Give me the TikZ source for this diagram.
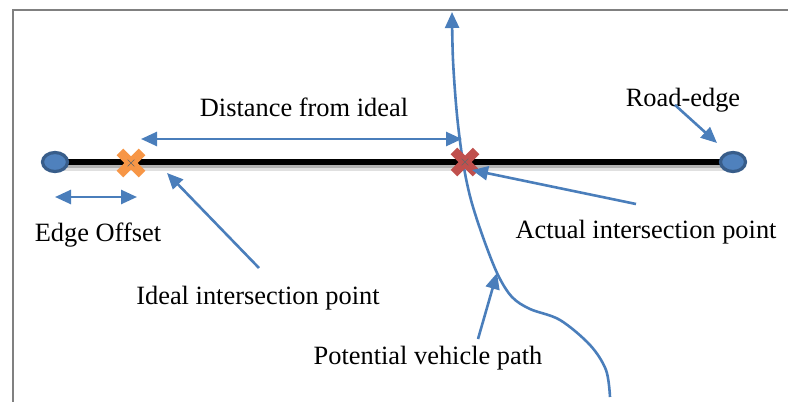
\documentclass[tikz,border=0pt]{standalone}
\usepackage{fontspec}
\setmainfont{Liberation Serif}
\usetikzlibrary{arrows.meta,shapes.geometric,shapes.misc}
\definecolor{LineBlue}{HTML}{4A7EBB}
\definecolor{DotBlue}{HTML}{4F81BD}
\definecolor{DotRim}{HTML}{385D8A}
\definecolor{MarkOrange}{HTML}{F79646}
\definecolor{MarkRed}{HTML}{C0504D}
\definecolor{FrameGray}{HTML}{808080}

\begin{document}
\begin{tikzpicture}[x=0.5pt,y=-0.5pt, every node/.style={font=\fontsize{13.2}{15}\selectfont},
  pointer/.style={-{Triangle[length=8pt,width=7pt]},LineBlue,line width=1.3pt},
  twoway/.style={{Triangle[length=8pt,width=7pt]}-{Triangle[length=8pt,width=7pt]},LineBlue,line width=1.3pt},
  edgedot/.style={ellipse,draw=DotRim,fill=DotBlue,line width=1.6pt,minimum width=12.5pt,minimum height=9.5pt,inner sep=0pt},
  hitmark/.style={cross out,draw=#1,line width=4.6pt,minimum size=6.5pt,inner sep=0pt},
  tinyx/.style={cross out,draw=black!60,line width=0.3pt,minimum size=3pt,inner sep=0pt}]
  \useasboundingbox (0,0) rectangle (788,402);
  \draw[FrameGray,line width=1pt] (13,402) -- (13,10) -- (788,10);

  % road with its two edges
  \coordinate (L) at (55,162);
  \coordinate (R) at (733,162);
  \draw[black!30,line width=1.5pt] (60,166.5) -- (728,166.5);
  \draw[black!12,line width=1.5pt] (60,169) -- (728,169);
  \draw[black,line width=3pt] (L) -- (R);
  \node[edgedot] (roadL) at (L) {};
  \node[edgedot] (roadR) at (R) {};

  % vehicle path
  \draw[pointer] plot[smooth,tension=0.55] coordinates {(610,397) (606,370) (590,345) (560,320) (530,309) (512,297) (498,275) (484,240) (471,200) (463,162) (457,115) (453,60) (452,12)};

  % intersection marks
  \node[hitmark=MarkOrange] (ideal) at (131,163) {};
  \node[tinyx] at (ideal) {};
  \node[hitmark=MarkRed] (actual) at (465,162) {};
  \node[tinyx] at (actual) {};

  % labels
  \node[anchor=base] (lblDist) at (304,116) {Distance from ideal};
  \node[anchor=base] (lblEdge) at (683,106) {Road-edge};
  \node[anchor=base] (lblOffset) at (98,241) {Edge Offset};
  \node[anchor=base] (lblIdeal) at (258,304) {Ideal intersection point};
  \node[anchor=base] (lblActual) at (646,238) {Actual intersection point};
  \node[anchor=base] (lblPath) at (428,364) {Potential vehicle path};

  % arrow ends
  \coordinate (distL) at (141,139);
  \coordinate (distR) at (462,139);
  \coordinate (offL) at (55,197);
  \coordinate (offR) at (137,197);
  \coordinate (edgeTail) at (675,105);
  \coordinate (edgeTip) at (717,143);
  \coordinate (idealTail) at (259,268);
  \coordinate (idealTip) at (167,173);
  \coordinate (actualTail) at (636,204);
  \coordinate (actualTip) at (472,170);
  \coordinate (pathTail) at (478,339);
  \coordinate (pathTip) at (497,273);

  \draw[twoway] (distL) -- (distR);
  \draw[twoway] (offL) -- (offR);
  \draw[pointer] (edgeTail) -- (edgeTip);
  \draw[pointer] (idealTail) -- (idealTip);
  \draw[pointer] (actualTail) -- (actualTip);
  \draw[pointer] (pathTail) -- (pathTip);
\end{tikzpicture}
\end{document}
